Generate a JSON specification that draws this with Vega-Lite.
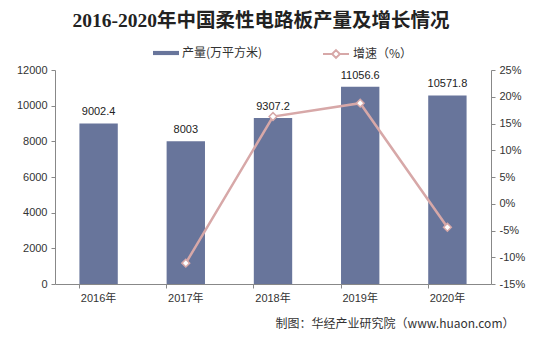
{
  "$schema": "https://vega.github.io/schema/vega-lite/v6.json",
  "width": 436,
  "height": 214,
  "autosize": {"type": "none"},
  "padding": {"left": 55, "top": 70, "right": 48, "bottom": 56},
  "background": "white",
  "title": {
    "text": "2016-2020年中国柔性电路板产量及增长情况",
    "font": "Liberation Serif, Noto Sans CJK SC",
    "fontSize": 19.5,
    "fontWeight": "bold",
    "color": "#222",
    "anchor": "middle",
    "baseline": "alphabetic",
    "dx": -12,
    "offset": -6
  },
  "data": {
    "values": [
      {"year": "2016年", "output": 9002.4, "growth": null},
      {"year": "2017年", "output": 8003, "growth": -11.1},
      {"year": "2018年", "output": 9307.2, "growth": 16.3},
      {"year": "2019年", "output": 11056.6, "growth": 18.8},
      {"year": "2020年", "output": 10571.8, "growth": -4.4}
    ]
  },
  "config": {
    "view": {"stroke": null},
    "axis": {
      "labelFont": "Liberation Sans, Noto Sans CJK SC",
      "labelFontSize": 11,
      "labelColor": "#333",
      "domainColor": "#888",
      "tickColor": "#888",
      "grid": false,
      "labelOverlap": false
    },
    "legend": {
      "labelFont": "Noto Sans CJK SC",
      "labelFontSize": 12,
      "labelColor": "#333",
      "padding": 0,
      "labelOffset": 3
    }
  },
  "encoding": {
    "x": {
      "field": "year",
      "type": "nominal",
      "sort": null,
      "scale": {"paddingInner": 0.56, "paddingOuter": 0.28},
      "axis": {
        "title": "制图：华经产业研究院（www.huaon.com）",
        "titleFont": "Noto Sans CJK SC",
        "titleFontSize": 12,
        "titleFontWeight": "normal",
        "titleColor": "#333",
        "titleAlign": "right",
        "titleAnchor": "start",
        "titleBaseline": "alphabetic",
        "titleX": 459,
        "titleY": 43,
        "labelAngle": 0,
        "bandPosition": 0,
        "labelOffset": 0,
        "tickSize": 4,
        "labelPadding": 4
      }
    }
  },
  "layer": [
    {
      "encoding": {
        "y": {
          "field": "output",
          "type": "quantitative",
          "scale": {"domain": [0, 12000]},
          "axis": {
            "title": null,
            "format": "d",
            "values": [0, 2000, 4000, 6000, 8000, 10000, 12000],
            "tickSize": 4,
            "labelPadding": 4
          }
        }
      },
      "layer": [
        {
          "mark": {"type": "bar", "color": "#68759b"},
          "encoding": {
            "color": {
              "datum": "产量(万平方米)",
              "scale": {"range": ["#68759b"]},
              "legend": {
                "orient": "none",
                "legendX": 98,
                "legendY": -30,
                "symbolType": "M-1,-0.16H1V0.16H-1Z",
                "symbolSize": 676,
                "symbolStrokeWidth": 0,
                "title": null
              }
            }
          }
        },
        {
          "mark": {
            "type": "text",
            "dy": -11,
            "font": "Liberation Sans",
            "fontSize": 11,
            "color": "#222"
          },
          "encoding": {
            "text": {"field": "output", "type": "quantitative"}
          }
        }
      ]
    },
    {
      "transform": [{"filter": "datum.growth != null"}],
      "encoding": {
        "y": {
          "field": "growth",
          "type": "quantitative",
          "scale": {"domain": [-15, 25]},
          "axis": {
            "orient": "right",
            "title": null,
            "values": [-15, -10, -5, 0, 5, 10, 15, 20, 25],
            "labelExpr": "datum.value + '%'",
            "tickSize": 4,
            "labelPadding": 4
          }
        }
      },
      "layer": [
        {
          "mark": {"type": "line", "strokeWidth": 2.5},
          "encoding": {
            "stroke": {
              "datum": "增速（%）",
              "scale": {"range": ["#d7a8a8"]},
              "legend": {
                "orient": "none",
                "legendX": 267,
                "legendY": -30,
                "symbolType": "M-1,0H-0.3M0.3,0H1M0,-0.3L0.3,0L0,0.3L-0.3,0Z",
                "symbolSize": 676,
                "symbolFillColor": "white",
                "symbolStrokeWidth": 2,
                "title": null
              }
            }
          }
        },
        {
          "mark": {
            "type": "point",
            "shape": "diamond",
            "filled": true,
            "fill": "white",
            "stroke": "#d7a8a8",
            "strokeWidth": 1.5,
            "size": 60,
            "opacity": 1
          }
        }
      ]
    }
  ],
  "resolve": {"scale": {"y": "independent", "color": "independent", "stroke": "independent"}}
}
